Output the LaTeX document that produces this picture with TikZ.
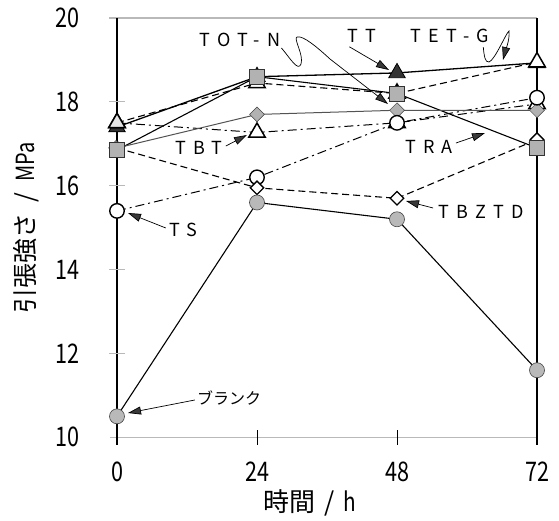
\documentclass[tikz,border=0pt]{standalone}
\usepackage{fontspec}
\setmainfont{Noto Sans CJK JP}
\newfontfamily\numf[FakeStretch=0.8]{Noto Sans CJK JP}
\newfontfamily\lblf[LetterSpace=40]{Noto Sans CJK JP}
\usetikzlibrary{shapes.geometric,arrows.meta}
\begin{document}
\begin{tikzpicture}[x=1pt,y=-1pt,
  gc/.style={circle,fill=gray!55,draw=gray!55!black,line width=0.6pt,minimum size=15pt,inner sep=0pt},
  oc/.style={circle,fill=white,draw=black,line width=1.4pt,minimum size=14.5pt,inner sep=0pt},
  gs/.style={rectangle,fill=gray!60,draw=gray!40!black,line width=0.6pt,minimum size=15pt,inner sep=0pt},
  od/.style={diamond,fill=white,draw=black,line width=1.3pt,minimum width=14pt,minimum height=14pt,inner sep=0pt},
  gd/.style={diamond,fill=gray!60,draw=gray!50!black,line width=0.5pt,minimum width=15pt,minimum height=15pt,inner sep=0pt},
  ot/.style={regular polygon,regular polygon sides=3,fill=white,draw=black,line width=1.5pt,minimum size=19pt,inner sep=0pt},
  dt/.style={regular polygon,regular polygon sides=3,fill=gray!40!black,draw=black,line width=0.8pt,minimum size=19pt,inner sep=0pt},
  sol/.style={line width=1.1pt},
  dsh/.style={line width=1.1pt,dash pattern=on 7pt off 4pt},
  ddot/.style={line width=1pt,dash pattern=on 9pt off 4pt on 2pt off 4pt},
  gline/.style={line width=1pt,draw=gray!65!black},
  lab/.style={font=\lblf\fontsize{18}{18}\selectfont,inner sep=0pt},
  tick/.style={font=\numf\fontsize{27}{27}\selectfont,inner sep=0pt},
  arr/.style={line width=0.7pt,-{Triangle[length=13pt,width=8pt,fill=gray!45!black]}},
  frame/.style={line width=1.6pt},
  gframe/.style={line width=1.2pt,draw=gray!55}]
\useasboundingbox[fill=white] (0,0) rectangle (559,520);
% frame
\coordinate (tl) at (117,18);
\coordinate (tr) at (537,18);
\coordinate (bl) at (117,445);
\coordinate (br) at (537,445);
\coordinate (bgl) at (110,437.3);
\coordinate (bgr) at (537,437.3);
\coordinate (tgl) at (109,18);
\draw[gframe] (tgl) -- (tr);
\draw[gframe] (bgl) -- (bgr);
\draw[frame] (tl) -- (bl);
\draw[frame] (tr) -- (br);
\foreach \v/\n in {12/a,14/b,16/c,18/d}{
  \coordinate (yt\n l) at (109,{437.3-(\v-10)*41.93});
  \coordinate (yt\n r) at (125,{437.3-(\v-10)*41.93});
  \draw[gframe,line width=1pt] (yt\n l) -- (yt\n r);
}
\foreach \t/\n in {24/a,48/b}{
  \coordinate (xt\n t) at ({117+\t*5.8333},430);
  \coordinate (xt\n b) at ({117+\t*5.8333},445);
  \draw[line width=1pt] (xt\n t) -- (xt\n b);
}
% tick labels
\foreach \v in {10,12,14,16,18,20}{
  \node[tick] (yl\v) at (67,{437.3-(\v-10)*41.93}) {\v};
}
\foreach \t in {0,24,48,72}{
  \node[tick] (xl\t) at ({117+\t*5.8333},472) {\t};
}
\node[inner sep=0pt,font=\fontsize{26}{26}\selectfont] (xtitle) at (310,503) {時間\hspace{9pt}/\hspace{9pt}{\numf h}};
\node[inner sep=0pt,font=\fontsize{25}{25}\selectfont,rotate=90] (ytitle) at (26,228) {引張強さ\hspace{11pt}/\hspace{11pt}{\numf MPa}};
% data coordinates
\begin{scope}[shift={(117,856.6)},x=5.8333pt,y=41.93pt]
  \coordinate (B0) at (0,10.5);  \coordinate (B1) at (24,15.6); \coordinate (B2) at (48,15.2); \coordinate (B3) at (72,11.6);
  \coordinate (S0) at (0,15.4);  \coordinate (S1) at (24,16.2); \coordinate (S2) at (48,17.5); \coordinate (S3) at (72,18.1);
  \coordinate (Z0) at (0,16.9);  \coordinate (Z1) at (24,15.95); \coordinate (Z2) at (48,15.7); \coordinate (Z3) at (72,17.1);
  \coordinate (N0) at (0,16.85); \coordinate (N1) at (24,18.6); \coordinate (N2) at (48,18.2); \coordinate (N3) at (72,16.9);
  \coordinate (T0) at (0,17.4);  \coordinate (T1) at (24,18.6); \coordinate (T2) at (48,18.69); \coordinate (T3) at (72,18.93);
  \coordinate (G0) at (0,17.5);  \coordinate (G1) at (24,18.45); \coordinate (G2) at (48,18.2); \coordinate (G3) at (72,18.95);
  \coordinate (U0) at (0,17.5);  \coordinate (U1) at (24,17.27); \coordinate (U2) at (48,17.5); \coordinate (U3) at (72,17.95);
  \coordinate (R0) at (0,16.9);  \coordinate (R1) at (24,17.7); \coordinate (R2) at (48,17.8); \coordinate (R3) at (72,17.8);
\end{scope}
% lines
\draw[sol] (B0) -- (B1) -- (B2) -- (B3);
\draw[ddot] (S0) -- (S1) -- (S2) -- (S3);
\draw[dsh] (Z0) -- (Z1) -- (Z2) -- (Z3);
\draw[sol] (N0) -- (N1) -- (N2) -- (N3);
\draw[sol,line width=1.3pt] (T0) -- (T1) -- (T2) -- (T3);
\draw[dsh] (G0) -- (G1) -- (G2) -- (G3);
\draw[ddot] (U0) -- (U1) -- (U2) -- (U3);
\draw[gline] (R0) -- (R1) -- (R2) -- (R3);
% markers
% x = 0
\node[gc] (mB0) at (B0) {};
\node[oc] (mS0) at (S0) {};
\node[od] (mZ0) at (Z0) {};
\node[gd] (mR0) at ([xshift=-1pt]R0) {};
\node[gs] (mN0) at (N0) {};
\node[dt] (mT0) at (T0) {};
\node[ot] (mU0) at (U0) {};
\node[ot,fill=gray!20] (mG0) at (G0) {};
% x = 24
\node[dt] (mT1) at (T1) {};
\node[ot] (mG1) at (G1) {};
\node[gs] (mN1) at (N1) {};
\node[gd] (mR1) at (R1) {};
\node[ot] (mU1) at (U1) {};
\node[oc] (mS1) at (S1) {};
\node[od] (mZ1) at (Z1) {};
\node[gc] (mB1) at (B1) {};
% x = 48
\node[ot] (mG2) at (G2) {};
\node[gs] (mN2) at (N2) {};
\node[dt] (mT2) at (T2) {};
\node[ot] (mU2) at (U2) {};
\node[gd] (mR2) at (R2) {};
\node[oc] (mS2) at (S2) {};
\node[od] (mZ2) at (Z2) {};
\node[gc] (mB2) at (B2) {};
% x = 72
\node[dt] (mT3) at (T3) {};
\node[ot] (mG3) at (G3) {};
\node[ot] (mU3) at (U3) {};
\node[gd] (mR3) at (R3) {};
\node[oc] (mS3) at (S3) {};
\node[od] (mZ3) at (Z3) {};
\node[gs] (mN3) at (N3) {};
\node[gc] (mB3) at (B3) {};
% labels
\node[lab] (lTOTN) at (240,40) {TOT-N};
\node[lab] (lTT) at (362,36) {TT};
\node[lab] (lTETG) at (450,36) {TET-G};
\node[lab] (lTBT) at (199,148) {TBT};
\node[lab] (lTS) at (183,230) {TS};
\node[lab] (lTRA) at (429,147) {TRA};
\node[lab] (lTBZTD) at (481,212) {TBZTD};
\node[inner sep=0pt,font=\fontsize{16}{16}\selectfont] (lBL) at (229,398) {ブランク};
% pointer targets
\coordinate (aTOTN) at (388,104);
\coordinate (aTT) at (389,70);
\coordinate (aTETG) at (503,60);
\coordinate (aTBT) at (247,135);
\coordinate (aTS) at (128,213);
\coordinate (aTRA) at (485,133);
\coordinate (aTBZTD) at (406,201);
\coordinate (aBL) at (128,413);
% pointers
\draw[arr] (lTOTN.east) ++(1,8) .. controls (290,58) and (298,72) .. (301,64)
   .. controls (304,55) and (293,38) .. (297,37)
   .. controls (303,35) and (318,48) .. (330,59) -- (aTOTN);
\draw[arr] (lTT.south west) ++(2,4) -- (aTT);
\draw[arr] (lTETG.south east) ++(-6,4) .. controls (484,55) and (485,63) .. (489,62)
   .. controls (495,60) and (506,33) .. (509,31)
   .. controls (510,40) and (505,52) .. (aTETG);
\draw[arr] (lTBT.east) ++(3,-2) -- (aTBT);
\draw[arr] (lTS.west) ++(-3,-2) -- (aTS);
\draw[arr] (lTRA.east) ++(3,-4) -- (aTRA);
\draw[arr] (lTBZTD.west) ++(-5,-4) -- (aTBZTD);
\draw[arr] (lBL.west) ++(-2,2) -- (aBL);
\end{tikzpicture}
\end{document}
